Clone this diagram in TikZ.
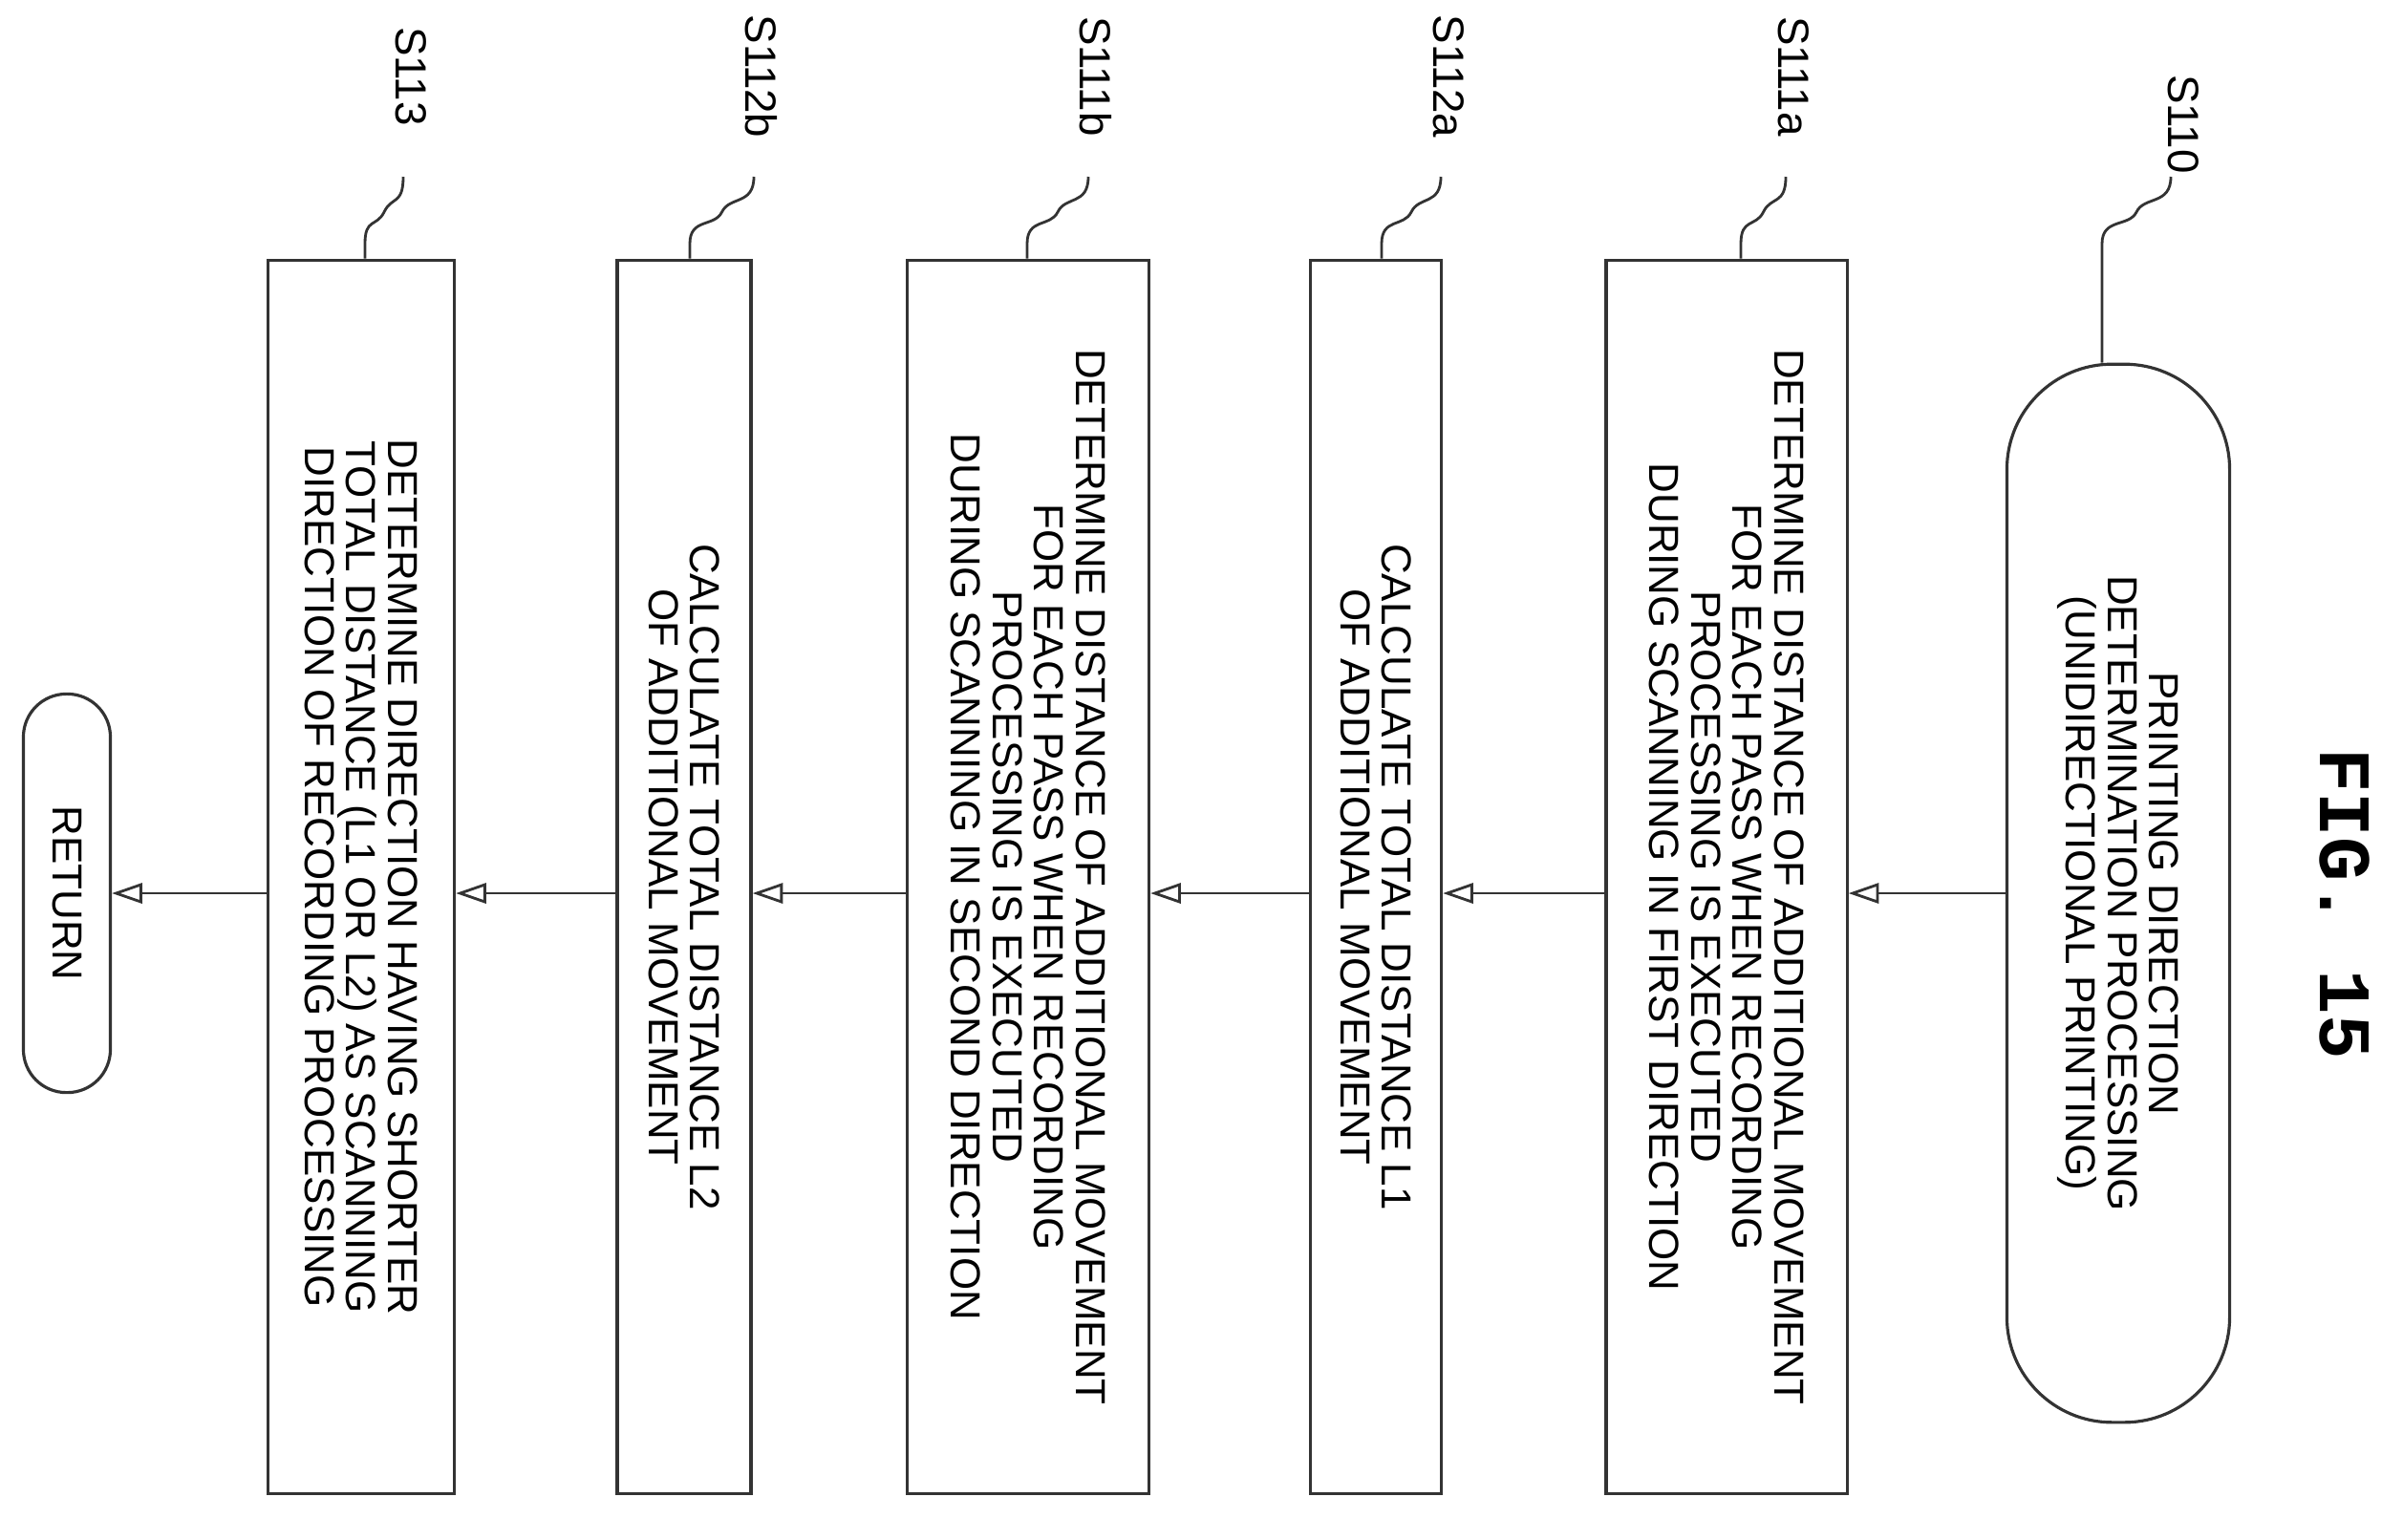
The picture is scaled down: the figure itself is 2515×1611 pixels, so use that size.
\documentclass[tikz,border=0pt]{standalone}
\usepackage{fontspec}
\setmainfont{Liberation Sans}
\newfontfamily\figfont{Liberation Mono}
\usetikzlibrary{arrows.meta}
\begin{document}
\begin{tikzpicture}[x=0.01cm,y=-0.01cm,
  box/.style={draw=black!80,line width=0.9pt,rotate=-90,align=center,inner sep=2pt,
    font=\fontsize{12.5}{12.4}\selectfont},
  term/.style={box,rounded corners=1.1cm},
  lbl/.style={rotate=-90,font=\fontsize{13}{14}\selectfont},
  arr/.style={draw=black!80,line width=0.8pt,-{Triangle[open,length=9pt,width=6pt]}},
  sq/.style={draw=black!80,line width=0.8pt}]
\useasboundingbox (0,0) rectangle (2515,1611);
\node[rotate=-90,font=\figfont\bfseries\fontsize{22}{24}\selectfont] (fig) at (2454,946) {FIG. 15};
\node[term,minimum width=11.07cm,minimum height=2.33cm] (s110) at (2217,935) {PRINTING DIRECTION\\DETERMINATION PROCESSING\\(UNIDIRECTIONAL PRINTING)};
\node[box,minimum width=12.91cm,minimum height=2.52cm] (s111a) at (1807,918) {DETERMINE DISTANCE OF ADDITIONAL MOVEMENT\\FOR EACH PASS WHEN RECORDING\\PROCESSING IS EXECUTED\\DURING SCANNING IN FIRST DIRECTION};
\node[box,minimum width=12.91cm,minimum height=1.37cm] (s112a) at (1440,918) {CALCULATE TOTAL DISTANCE L1\\OF ADDITIONAL MOVEMENT};
\node[box,minimum width=12.91cm,minimum height=2.53cm] (s111b) at (1076,918) {DETERMINE DISTANCE OF ADDITIONAL MOVEMENT\\FOR EACH PASS WHEN RECORDING\\PROCESSING IS EXECUTED\\DURING SCANNING IN SECOND DIRECTION};
\node[box,minimum width=12.91cm,minimum height=1.40cm] (s112b) at (716,918) {CALCULATE TOTAL DISTANCE L2\\OF ADDITIONAL MOVEMENT};
\node[box,minimum width=12.91cm,minimum height=1.95cm] (s113) at (378,918) {DETERMINE DIRECTION HAVING SHORTER\\TOTAL DISTANCE (L1 OR L2) AS SCANNING\\DIRECTION OF RECORDING PROCESSING};
\node[box,rounded corners=0.45cm,minimum width=4.17cm,minimum height=0.91cm] (ret) at (70,935) {RETURN};
\draw[arr] (s110.south) -- (s110.south -| s111a.north);
\draw[arr] (s111a.south |- s110.south) -- (s110.south -| s112a.north);
\draw[arr] (s112a.south |- s110.south) -- (s110.south -| s111b.north);
\draw[arr] (s111b.south |- s110.south) -- (s110.south -| s112b.north);
\draw[arr] (s112b.south |- s110.south) -- (s110.south -| s113.north);
\draw[arr] (s113.south |- s110.south) -- (ret.north);
% labels
\node[lbl] (l110) at (2285,130) {S110};
\node[lbl] (l111a) at (1877,80) {S111a};
\node[lbl] (l112a) at (1516,80) {S112a};
\node[lbl] (l111b) at (1147,80) {S111b};
\node[lbl] (l112b) at (797,80) {S112b};
\node[lbl] (l113) at (430,80) {S113};
\foreach \a/\b/\n in {2272/2200/s110, 1869/1822/s111a, 1508/1446/s112a, 1139/1075/s111b, 789/722/s112b, 422/382/s113}{
  \pgfmathsetmacro{\m}{(\a+\b)/2}
  \coordinate (t) at (\b,255);
  \draw[sq] (\a,185) .. controls (\a,215) and (\m+8,205) .. (\m,222) .. controls (\m-8,238) and (\b,228) .. (t) -- (t |- \n.west);
}
\end{tikzpicture}
\end{document}
